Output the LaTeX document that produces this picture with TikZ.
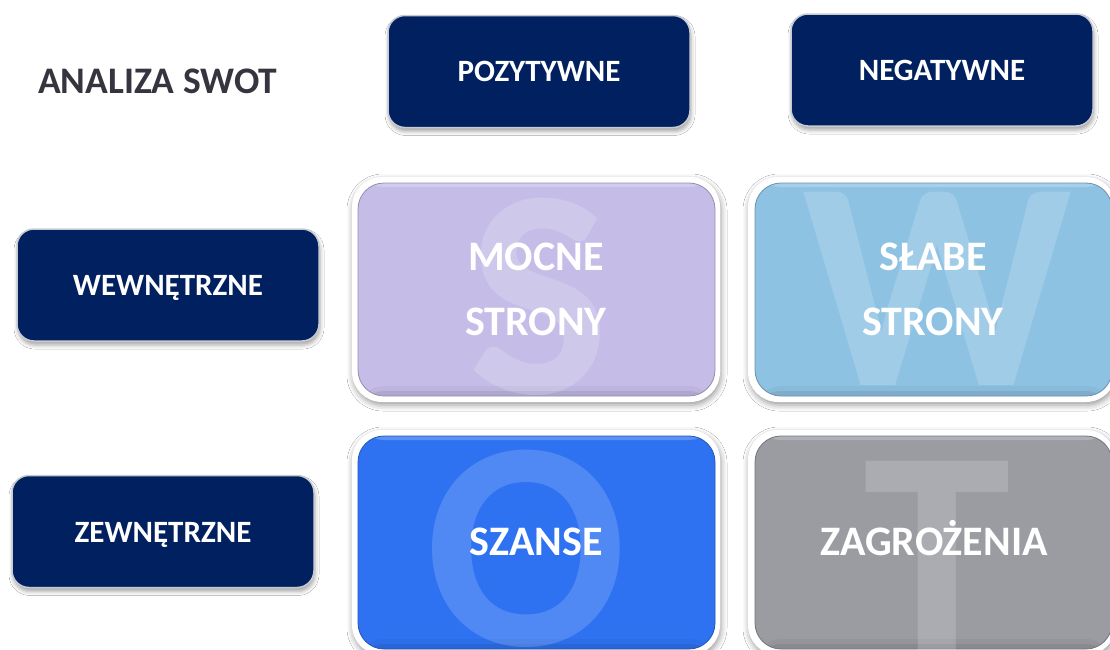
\documentclass[tikz,border=0pt]{standalone}
\usepackage{fontspec}
\setmainfont{Carlito}
\usetikzlibrary{shadows.blur}
\definecolor{navy}{RGB}{0,32,96}
\definecolor{hdrborder}{RGB}{200,202,210}
\definecolor{titlegray}{RGB}{53,53,63}
\definecolor{lav}{RGB}{197,189,232}
\definecolor{lblue}{RGB}{142,194,227}
\definecolor{sblue}{RGB}{46,114,242}
\definecolor{tgray}{RGB}{154,156,162}
\tikzset{
  hdr/.style={rounded corners=17pt, fill=navy, draw=hdrborder, line width=1.5pt,
    minimum width=302pt, minimum height=112pt, inner sep=0pt,
    blur shadow={shadow xshift=1pt, shadow yshift=-4pt, shadow blur radius=4pt, shadow opacity=35}},
  hdrtext/.style={text=white, font=\bfseries\fontsize{31}{31}\selectfont, anchor=base, inner sep=0pt},
  qtext/.style={text=white, font=\bfseries\fontsize{42}{42}\selectfont, anchor=base, inner sep=0pt},
  outerbox/.style={rounded corners=30pt, fill=white, minimum width=368pt, minimum height=225pt, inner sep=0pt,
    blur shadow={shadow xshift=1pt, shadow yshift=-3pt, shadow blur radius=6pt, shadow opacity=40}},
  innerbox/.style={rounded corners=26pt, fill=#1, draw=#1!75!black, line width=0.8pt,
    minimum width=357pt, minimum height=213pt, inner sep=0pt,
    path picture={
      \fill[black, opacity=0.04] ([yshift=10pt]path picture bounding box.south west) rectangle (path picture bounding box.south east);
      \fill[black, opacity=0.07] ([yshift=5pt]path picture bounding box.south west) rectangle (path picture bounding box.south east);
      \fill[white, opacity=0.22] ([yshift=-4pt]path picture bounding box.north west) rectangle (path picture bounding box.north east);
    }},
  wmark/.style={text=white, text opacity=0.17, font=\bfseries\fontsize{298}{298}\selectfont, anchor=base, inner sep=0pt}
}
\begin{document}
\begin{tikzpicture}[x=1pt,y=-1pt]
\useasboundingbox (0,0) rectangle (1110,649);
\fill[white] (0,0) rectangle (1110,649);

% title
\node[anchor=base west, inner sep=0pt, text=titlegray, font=\bfseries\fontsize{37.5}{38}\selectfont] (title) at (38,93) {ANALIZA SWOT};

% header boxes
\node[hdr] (poz) at (539,71.5) {};
\node[hdrtext] (pozT) at (539,81) {POZYTYWNE};
\node[hdr] (neg) at (942,70) {};
\node[hdrtext] (negT) at (942,80) {NEGATYWNE};
\node[hdr] (wew) at (168,285) {};
\node[hdrtext] (wewT) at (168,295) {WEWNĘTRZNE};
\node[hdr] (zew) at (163,531.5) {};
\node[hdrtext] (zewT) at (163,542) {ZEWNĘTRZNE};

% quadrants
\node[outerbox] (sOut) at (536,289.5) {};
\node[innerbox=lav] (sIn) at (536.5,289.5) {};
\node[outerbox] (wOut) at (932,289.5) {};
\node[innerbox=lblue] (wIn) at (933.5,289.5) {};
\node[outerbox] (oOut) at (536,542.5) {};
\node[innerbox=sblue] (oIn) at (536.5,542.5) {};
\node[outerbox] (tOut) at (932,542.5) {};
\node[innerbox=tgray] (tIn) at (933.5,542.5) {};

% watermark letters
\begin{scope}
  \clip[rounded corners=26pt] (sIn.north west) rectangle (sIn.south east);
  \node[wmark] (sMark) at (539,393) {S};
\end{scope}
\begin{scope}
  \clip[rounded corners=26pt] (wIn.north west) rectangle (wIn.south east);
  \node[wmark] (wMark) at (938,385) {W};
\end{scope}
\begin{scope}
  \clip[rounded corners=26pt] (oIn.north west) rectangle (oIn.south east);
  \node[wmark] (oMark) at (526,645) {O};
\end{scope}
\begin{scope}
  \clip[rounded corners=26pt] (tIn.north west) rectangle (tIn.south east);
  \node[wmark] (tMark) at (937,654) {T};
\end{scope}

% quadrant labels
\node[qtext] (s1) at (536,270) {MOCNE};
\node[qtext] (s2) at (536,335) {STRONY};
\node[qtext] (w1) at (933,270) {SŁABE};
\node[qtext] (w2) at (933,335) {STRONY};
\node[qtext] (o1) at (536,555) {SZANSE};
\node[qtext] (t1) at (934,555) {ZAGROŻENIA};
\end{tikzpicture}
\end{document}
